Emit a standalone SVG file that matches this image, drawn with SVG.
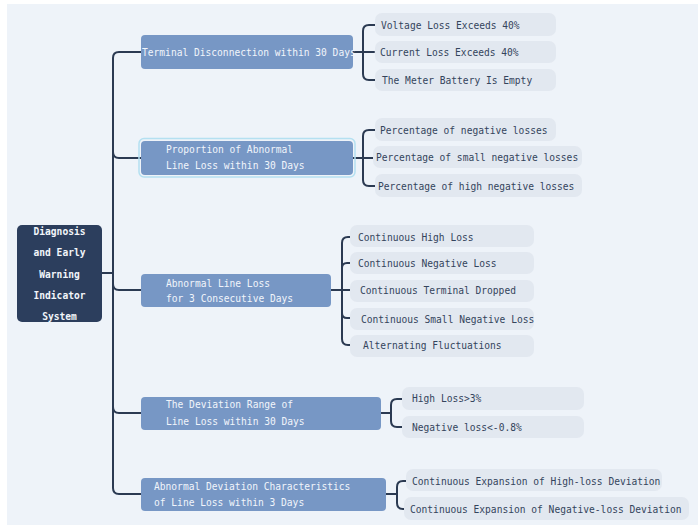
<svg xmlns="http://www.w3.org/2000/svg" width="698" height="525" viewBox="0 0 698 525">
<style>
text{font-family:"DejaVu Sans Mono","Liberation Mono",monospace;font-size:9.6px;dominant-baseline:central}
.root rect{fill:#2c3e5d}
.root text{fill:#f2f5fa;font-weight:bold;text-anchor:middle}
.l1 rect{fill:#7797c5}
.l1 text{fill:#f1f5fb}
.leaf rect{fill:#e2e8f0}
.leaf text{fill:#34445c}
.conn path{fill:none;stroke:#2b3a52;stroke-width:2;stroke-linecap:round}
</style>
<rect x="0" y="0" width="698" height="525" fill="#ffffff"/>
<rect x="7" y="4" width="691" height="521" fill="#eef3f9"/>
<g class="conn">
<path d="M102,273 H113"/>
<path d="M141,52 H119 Q113,52 113,58 V488 Q113,494 119,494 H141"/>
<path d="M113,152 Q113,158 119,158 H141"/>
<path d="M113,284 Q113,290 119,290 H141"/>
<path d="M113,407 Q113,413 119,413 H141"/>
<path d="M353,52 H374"/>
<path d="M375,25 H369 Q363,25 363,31 V74 Q363,80 369,80 H375"/>
<path d="M353,158 H373"/>
<path d="M375,130 H369 Q363,130 363,136 V180 Q363,186 369,186 H375"/>
<path d="M331,290 H350"/>
<path d="M350,237 H348 Q342,237 342,243 V339 Q342,345 348,345 H350"/>
<path d="M342,268 Q342,263 347,263 H350"/>
<path d="M342,313 Q342,318 347,318 H350"/>
<path d="M381,413 H391"/>
<path d="M402,399 H397 Q391,399 391,405 V421 Q391,427 397,427 H402"/>
<path d="M386,494 H397"/>
<path d="M406,481 H403 Q397,481 397,487 V503 Q397,509 403,509 H404"/>
</g>
<g id="root" class="root">
<rect x="17" y="225" width="85" height="97" rx="5"/>
<text x="59.5" y="231">Diagnosis</text>
<text x="59.5" y="252.5">and Early</text>
<text x="59.5" y="274">Warning</text>
<text x="59.5" y="295">Indicator</text>
<text x="59.5" y="316">System</text>
</g>
<g id="n1" class="l1">
<rect x="141" y="35" width="212" height="34" rx="4"/>
<text x="142" y="52">Terminal Disconnection within 30 Days</text>
</g>
<g id="n2" class="l1">
<rect x="139" y="138.5" width="216" height="38.5" rx="5" fill="none" stroke="#b4e0f1" stroke-width="1.5" style="fill:none"/>
<rect x="141" y="141" width="212" height="34" rx="4"/>
<text x="166" y="149">Proportion of Abnormal</text>
<text x="166" y="165.5">Line Loss within 30 Days</text>
</g>
<g id="n3" class="l1">
<rect x="141" y="274" width="190" height="33" rx="4"/>
<text x="166" y="283">Abnormal Line Loss</text>
<text x="166" y="298">for 3 Consecutive Days</text>
</g>
<g id="n4" class="l1">
<rect x="141" y="397" width="240" height="33" rx="4"/>
<text x="166" y="404.5">The Deviation Range of</text>
<text x="166" y="421">Line Loss within 30 Days</text>
</g>
<g id="n5" class="l1">
<rect x="141" y="478" width="245" height="33" rx="4"/>
<text x="154" y="486">Abnormal Deviation Characteristics</text>
<text x="154" y="502">of Line Loss within 3 Days</text>
</g>
<g id="l1a" class="leaf"><rect x="375" y="13" width="181" height="23" rx="7"/><text x="381" y="25">Voltage Loss Exceeds 40%</text></g>
<g id="l1b" class="leaf"><rect x="375" y="41" width="181" height="22" rx="7"/><text x="380" y="52">Current Loss Exceeds 40%</text></g>
<g id="l1c" class="leaf"><rect x="375" y="69" width="181" height="22" rx="7"/><text x="382" y="80.5">The Meter Battery Is Empty</text></g>
<g id="l2a" class="leaf"><rect x="375" y="118" width="181" height="23" rx="7"/><text x="380" y="130">Percentage of negative losses</text></g>
<g id="l2b" class="leaf"><rect x="373" y="146" width="209" height="22" rx="7"/><text x="376" y="157">Percentage of small negative losses</text></g>
<g id="l2c" class="leaf"><rect x="375" y="174" width="207" height="23" rx="7"/><text x="378" y="186">Percentage of high negative losses</text></g>
<g id="l3a" class="leaf"><rect x="350" y="225" width="184" height="22" rx="7"/><text x="358" y="237">Continuous High Loss</text></g>
<g id="l3b" class="leaf"><rect x="350" y="252" width="184" height="22" rx="7"/><text x="358" y="263">Continuous Negative Loss</text></g>
<g id="l3c" class="leaf"><rect x="350" y="280" width="184" height="22" rx="7"/><text x="360" y="290.5">Continuous Terminal Dropped</text></g>
<g id="l3d" class="leaf"><rect x="350" y="308" width="184" height="22" rx="7"/><text x="361" y="319">Continuous Small Negative Loss</text></g>
<g id="l3e" class="leaf"><rect x="350" y="335" width="184" height="22" rx="7"/><text x="363" y="345">Alternating Fluctuations</text></g>
<g id="l4a" class="leaf"><rect x="402" y="387" width="182" height="23" rx="7"/><text x="412" y="398.5">High Loss&gt;3%</text></g>
<g id="l4b" class="leaf"><rect x="402" y="416" width="182" height="22" rx="7"/><text x="412" y="427">Negative loss&lt;-0.8%</text></g>
<g id="l5a" class="leaf"><rect x="406" y="469" width="256" height="22" rx="7"/><text x="412" y="481">Continuous Expansion of High-loss Deviation</text></g>
<g id="l5b" class="leaf"><rect x="404" y="497" width="285" height="23" rx="7"/><text x="410" y="509">Continuous Expansion of Negative-loss Deviation</text></g>
</svg>
